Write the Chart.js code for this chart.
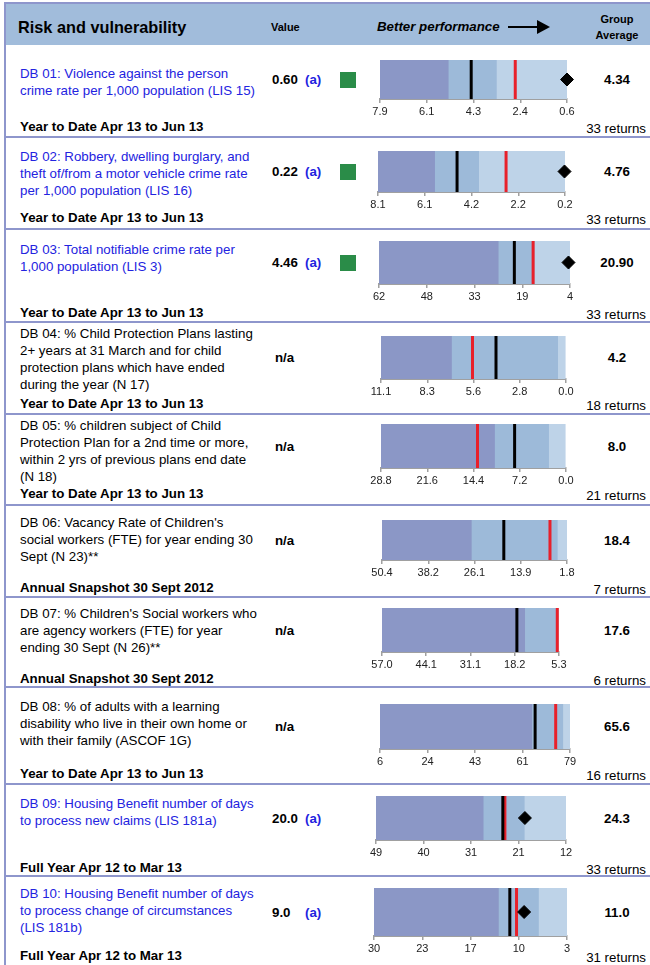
<!DOCTYPE html>
<html><head><meta charset="utf-8">
<script src="https://cdn.jsdelivr.net/npm/chart.js@4.4.0/dist/chart.umd.min.js"></script>
<style>
html,body{margin:0;padding:0;background:#fff;}
body{width:650px;height:965px;overflow:hidden;position:relative;font-family:"Liberation Sans",Arial,sans-serif;color:#000;}
.a{position:absolute;white-space:nowrap;line-height:17px;}
.hdr{position:absolute;left:5px;top:3px;width:645px;height:42px;background:#a1bcdb;}
.sep{position:absolute;left:5px;width:645px;height:2px;background:#8e96cc;}
.vl{position:absolute;left:4px;top:2px;width:2px;height:963px;background:#8e96cc;}
.tl{position:absolute;left:5px;top:2px;width:645px;height:2px;background:#8e96cc;}
.title{font-size:13.3px;}
.link{color:#2323e0;}
.foot{font-size:13.3px;font-weight:bold;}
.val{font-size:13.3px;font-weight:bold;}
.flag{font-size:13.3px;font-weight:bold;color:#2323e0;}
.ga{font-size:13.3px;font-weight:bold;text-align:center;width:80px;}
.ret{font-size:13.3px;text-align:right;width:100px;}
.sq{position:absolute;width:16px;height:16px;background:#2a8c48;}
canvas{position:absolute;}
</style></head><body>
<div class="hdr"></div>
<div class="tl"></div>
<div class="vl"></div>
<div class="a" style="left:18px;top:17px;font-size:16.3px;font-weight:bold;line-height:20px;">Risk and vulnerability</div>
<div class="a" style="left:271px;top:19px;font-size:11px;font-weight:bold;">Value</div>
<div class="a" style="left:377px;top:18px;font-size:13.3px;font-weight:bold;font-style:italic;">Better performance</div>
<div style="position:absolute;left:508px;top:26px;width:30px;height:2px;background:#000;"></div>
<div style="position:absolute;left:537px;top:20px;width:0;height:0;border-top:7px solid transparent;border-bottom:7px solid transparent;border-left:13px solid #000;"></div>
<div class="a" style="left:577px;top:11px;width:80px;text-align:center;font-size:11px;font-weight:bold;line-height:16px;">Group<br>Average</div>
<div id="rows"></div>
<script>
// ---------------- DATA ----------------
const indicatorTitles = [
  ["DB 01: Violence against the person", "crime rate per 1,000 population (LIS 15)"],
  ["DB 02: Robbery, dwelling burglary, and", "theft of/from a motor vehicle crime rate", "per 1,000 population (LIS 16)"],
  ["DB 03: Total notifiable crime rate per", "1,000 population (LIS 3)"],
  ["DB 04: % Child Protection Plans lasting", "2+ years at 31 March and for child", "protection plans which have ended", "during the year (N 17)"],
  ["DB 05: % children subject of Child", "Protection Plan for a 2nd time or more,", "within 2 yrs of previous plans end date", "(N 18)"],
  ["DB 06: Vacancy Rate of Children's", "social workers (FTE) for year ending 30", "Sept (N 23)**"],
  ["DB 07: % Children's Social workers who", "are agency workers (FTE) for year", "ending 30 Sept (N 26)**"],
  ["DB 08: % of adults with a learning", "disability who live in their own home or", "with their family (ASCOF 1G)"],
  ["DB 09: Housing Benefit number of days", "to process new claims (LIS 181a)"],
  ["DB 10: Housing Benefit number of days", "to process change of circumstances", "(LIS 181b)"]
];
const titleIsLink = [true, true, true, false, false, false, false, false, true, true];
const periods = [
  "Year to Date Apr 13 to Jun 13", "Year to Date Apr 13 to Jun 13", "Year to Date Apr 13 to Jun 13",
  "Year to Date Apr 13 to Jun 13", "Year to Date Apr 13 to Jun 13", "Annual Snapshot 30 Sept 2012",
  "Annual Snapshot 30 Sept 2012", "Year to Date Apr 13 to Jun 13", "Full Year Apr 12 to Mar 13",
  "Full Year Apr 12 to Mar 13"
];
const valueLabels = ["0.60", "0.22", "4.46", "n/a", "n/a", "n/a", "n/a", "n/a", "20.0", "9.0"];
const values = [0.60, 0.22, 4.46, null, null, null, null, null, 20.0, 9.0];
const valueFlags = ["(a)", "(a)", "(a)", "", "", "", "", "", "(a)", "(a)"];
const greenStatus = [true, true, true, false, false, false, false, false, false, false];
const groupAverages = [4.34, 4.76, 20.90, 4.2, 8.0, 18.4, 17.6, 65.6, 24.3, 11.0];
const groupAverageLabels = ["4.34", "4.76", "20.90", "4.2", "8.0", "18.4", "17.6", "65.6", "24.3", "11.0"];
const returnsCount = [33, 33, 33, 18, 21, 7, 6, 16, 33, 31];
const axisLeft = [7.9, 8.1, 62, 11.1, 28.8, 50.4, 57.0, 6, 49, 30];
const axisRight = [0.6, 0.2, 4, 0.0, 0.0, 1.8, 5.3, 79, 12, 3];
const tickLabels = [
  ["7.9", "6.1", "4.3", "2.4", "0.6"],
  ["8.1", "6.1", "4.2", "2.2", "0.2"],
  ["62", "48", "33", "19", "4"],
  ["11.1", "8.3", "5.6", "2.8", "0.0"],
  ["28.8", "21.6", "14.4", "7.2", "0.0"],
  ["50.4", "38.2", "26.1", "13.9", "1.8"],
  ["57.0", "44.1", "31.1", "18.2", "5.3"],
  ["6", "24", "43", "61", "79"],
  ["49", "40", "31", "21", "12"],
  ["30", "23", "17", "10", "3"]
];
const darkBandEnd = [5.21, 5.68, 25.6, 6.83, 11.02, 26.76, 15.1, 64.6, 28.0, 12.5];
const midBandEnd = [3.33, 3.82, 14.7, 0.46, 2.6, 4.17, 5.5, 76.5, 20.0, 6.9];
const redMarker = [2.62, 2.69, 15.2, 5.61, 13.78, 6.27, 5.8, 73.5, 23.9, 10.06];

// ---------------- LAYOUT ----------------
const rowTops = [45, 137, 229, 322, 414, 505, 597, 687, 784, 876];
const titleTops = [73, 156, 249, 333, 425, 522, 613, 706, 803, 893];
const footYs = [126, 217, 312, 403, 493, 587, 678, 773, 867, 955];
const barTops = [60, 151, 241, 336, 424, 520, 608, 704, 796, 888];
const barBottoms = [99, 192, 284, 379, 468, 560, 652, 749, 840, 936];
const plotLefts = [380, 378, 379, 381, 381, 382, 382, 380, 376, 374];
const plotRights = [567, 565, 570, 566, 566, 567, 559, 570, 566, 567];

const C_DARK = '#8b97c6', C_MID = '#9dbad9', C_LIGHT = '#bed3e8', C_RED = '#e8202a';

Chart.defaults.font.family = '"Liberation Sans", Arial, sans-serif';
Chart.defaults.font.size = 11;
Chart.defaults.color = '#222';

const rowsEl = document.getElementById('rows');
function add(html){ rowsEl.insertAdjacentHTML('beforeend', html); }

for (let i = 0; i < indicatorTitles.length; i++) {
  if (i > 0) add(`<div class="sep" style="top:${rowTops[i]-1}px"></div>`);
  indicatorTitles[i].forEach((t, k) => {
    add(`<div class="a title ${titleIsLink[i] ? 'link' : ''}" style="left:20px;top:${titleTops[i] - 8.5 + k*17}px">${t}</div>`);
  });
  add(`<div class="a foot" style="left:20px;top:${footYs[i]-8.5}px">${periods[i]}</div>`);
  const cy = (barTops[i] + barBottoms[i]) / 2;
  add(`<div class="a val" style="left:${valueLabels[i]==='n/a'?275:272}px;top:${cy-8.5}px">${valueLabels[i]}</div>`);
  if (valueFlags[i]) add(`<div class="a flag" style="left:305px;top:${cy-8.5}px">${valueFlags[i]}</div>`);
  if (greenStatus[i]) add(`<div class="sq" style="left:340px;top:${cy-8}px"></div>`);
  add(`<div class="a ga" style="left:577px;top:${cy-8.5}px">${groupAverageLabels[i]}</div>`);
  add(`<div class="a ret" style="left:546px;top:${footYs[i]-8.5+2}px">${returnsCount[i]} returns</div>`);

  // bullet chart
  const canvas = document.createElement('canvas');
  const cLeft = 330, cWidth = 270, padTop = 10, axisH = 26;
  const barH = barBottoms[i] - barTops[i];
  canvas.width = cWidth; canvas.height = padTop + barH + axisH;
  canvas.style.left = cLeft + 'px';
  canvas.style.top = (barTops[i] - padTop) + 'px';
  canvas.style.width = cWidth + 'px';
  canvas.style.height = (padTop + barH + axisH) + 'px';
  document.body.appendChild(canvas);

  const L = axisLeft[i], R = axisRight[i];
  const lo = Math.min(L, R), hi = Math.max(L, R);
  const labels = tickLabels[i];
  const barOpts = {categoryPercentage: 1, barPercentage: 1, grouped: false, borderWidth: 0};
  const ds = [
    Object.assign({data: [[L, darkBandEnd[i]]], backgroundColor: C_DARK, order: 10}, barOpts),
    Object.assign({data: [[darkBandEnd[i], midBandEnd[i]]], backgroundColor: C_MID, order: 9}, barOpts),
    Object.assign({data: [[midBandEnd[i], R]], backgroundColor: C_LIGHT, order: 8}, barOpts),
    {type: 'scatter', data: [{x: redMarker[i], y: 'm'}], pointStyle: 'line', pointRotation: 90,
     pointRadius: barH/2, pointBorderColor: C_RED, pointBorderWidth: 3, clip: false, order: 3},
    {type: 'scatter', data: [{x: groupAverages[i], y: 'm'}], pointStyle: 'line', pointRotation: 90,
     pointRadius: barH/2, pointBorderColor: '#000', pointBorderWidth: 3, clip: false, order: 2}
  ];
  if (values[i] !== null) {
    ds.push({type: 'scatter', data: [{x: values[i], y: 'm'}], pointStyle: 'rectRot', pointRadius: 6.5,
      pointBackgroundColor: '#000', pointBorderColor: '#000', pointBorderWidth: 1, clip: false, order: 1});
  }
  new Chart(canvas, {
    type: 'bar',
    data: {labels: ['m'], datasets: ds},
    options: {
      responsive: false, animation: false, events: [], indexAxis: 'y',
      layout: {autoPadding: false, padding: {left: plotLefts[i] - cLeft, right: cLeft + cWidth - plotRights[i], top: padTop, bottom: 0}},
      plugins: {legend: {display: false}, tooltip: {enabled: false}},
      scales: {
        y: {display: false},
        x: {
          type: 'linear', min: lo, max: hi, reverse: L > R,
          afterBuildTicks: (s) => { s.ticks = [0,1,2,3,4].map(k => ({value: L + (R - L) * k / 4})); },
          afterFit: (s) => { s.height = axisH; },
          ticks: {autoSkip: false, maxRotation: 0, padding: 2, color: '#222', font: {size: 11},
            callback: (v) => labels[Math.round((v - L) / (R - L) * 4)]},
          grid: {drawOnChartArea: false, drawTicks: true, tickLength: 4, color: '#a0a0a0', lineWidth: 1.5},
          border: {display: true, color: '#a0a0a0', width: 2}
        }
      }
    }
  });
}
</script>
</body></html>
